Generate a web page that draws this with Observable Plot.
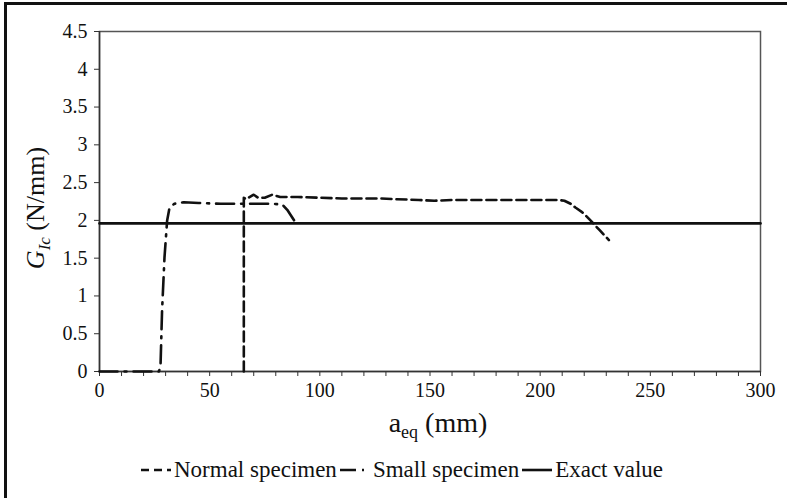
<!DOCTYPE html>
<html>
<head>
<meta charset="utf-8">
<script src="https://cdn.jsdelivr.net/npm/d3@7"></script>
<script src="https://cdn.jsdelivr.net/npm/@observablehq/plot@0.6"></script>
<style>
  html, body { margin: 0; padding: 0; background: #fff; }
  #wrap { position: relative; width: 787px; height: 498px; overflow: hidden; background: #fff; font-family: "Liberation Serif", "Times New Roman", Times, "DejaVu Serif", "Noto Serif", serif; }
  #border { position: absolute; left: 4px; top: 2px; width: 900px; height: 600px; border-left: 3px solid #111; border-top: 3px solid #111; box-sizing: border-box; pointer-events: none; }
  #chart { position: absolute; left: 0; top: 0; }
  #chart svg, #chart svg text { font-family: "Liberation Serif", "Times New Roman", Times, "DejaVu Serif", "Noto Serif", serif !important; }
  #legend { position: absolute; left: 140px; top: 455px; height: 30px; display: flex; align-items: center; font-size: 23px; color: #111; white-space: nowrap; }
  #legend .item { display: flex; align-items: center; }
  #legend svg { display: block; }
</style>
</head>
<body>
<div id="wrap">
  <div id="chart"></div>
  <div id="legend"></div>
  <div id="border"></div>
</div>
<script>
// ---- data ----
const normalX = [65.5, 65.5, 66.5, 70, 72, 75, 78.4, 82, 90, 100, 110, 120, 128, 135, 145, 152, 160, 170, 183, 195, 200, 208, 211, 213.8, 216, 219, 221.5, 223.6, 227, 231.2];
const normalY = [0, 2.3, 2.28, 2.34, 2.3, 2.3, 2.34, 2.31, 2.31, 2.3, 2.29, 2.29, 2.29, 2.28, 2.27, 2.26, 2.27, 2.27, 2.27, 2.27, 2.27, 2.27, 2.26, 2.22, 2.17, 2.11, 2.04, 1.976, 1.87, 1.74];

const smallX = [0, 27, 27.7, 28.4, 29.5, 30.7, 31.8, 34, 38.3, 45, 55, 65, 72, 78.4, 83, 85.2, 89];
const smallY = [0, 0, 0.08, 0.81, 1.51, 2.0, 2.17, 2.22, 2.24, 2.23, 2.22, 2.22, 2.22, 2.22, 2.21, 2.14, 1.97];

const exactX = [0, 300];
const exactY = [1.96, 1.96];

const seriesNames = ["Normal specimen", "Small specimen", "Exact value"];
const xTicks = d3.range(0, 301, 10);
const yTicks = d3.range(0, 4.51, 0.5);

// ---- build tables ----
const toRows = (xs, ys) => xs.map((x, i) => ({x, y: ys[i]}));
const normal = toRows(normalX, normalY);
const small = toRows(smallX, smallY);
const exact = toRows(exactX, exactY);

const dashes = ["10,5", "18,7,2,7", null];

const chart = Plot.plot({
  width: 787,
  height: 450,
  marginLeft: 99,
  marginRight: 27,
  marginTop: 31,
  marginBottom: 79,
  style: { fontSize: "20px", color: "#111", background: "transparent", overflow: "visible" },
  x: { domain: [0, 300] },
  y: { domain: [0, 4.5] },
  marks: [
    Plot.frame({ stroke: "#555", strokeWidth: 1.5 }),
    Plot.axisX({ ticks: xTicks, tickSize: 5, tickPadding: 6, stroke: "#333",
      tickFormat: d => (d % 50 === 0 ? String(d) : ""), label: null, fontSize: 20 }),
    Plot.axisY({ ticks: yTicks, tickSize: 5, tickPadding: 7, stroke: "#333",
      tickFormat: d => String(+d.toFixed(1)), label: null, fontSize: 20 }),
    Plot.ruleY([0], { stroke: "#333", strokeWidth: 1.5 }),
    Plot.ruleX([0], { stroke: "#333", strokeWidth: 1.5 }),
    Plot.line(exact, { x: "x", y: "y", stroke: "#111", strokeWidth: 2.6 }),
    Plot.line(small, { x: "x", y: "y", stroke: "#111", strokeWidth: 2.6, strokeDasharray: dashes[1], curve: "linear" }),
    Plot.line(normal, { x: "x", y: "y", stroke: "#111", strokeWidth: 2.6, strokeDasharray: dashes[0], curve: "linear" })
  ]
});
document.getElementById("chart").appendChild(chart);

// axis titles
const svg = d3.select(chart);
const xt = svg.append("text")
  .attr("x", 438).attr("y", 432)
  .attr("text-anchor", "middle")
  .attr("font-size", 28).attr("fill", "#111");
xt.append("tspan").text("a");
xt.append("tspan").attr("font-size", 18).attr("dy", 6).text("eq");
xt.append("tspan").attr("dy", -6).text(" (mm)");

const yt = svg.append("text")
  .attr("transform", "translate(44,208) rotate(-90)")
  .attr("text-anchor", "middle")
  .attr("font-size", 26).attr("fill", "#111");
yt.append("tspan").attr("font-style", "italic").text("G");
yt.append("tspan").attr("font-style", "italic").attr("font-size", 17).attr("dy", 6).text("Ic");
yt.append("tspan").attr("dy", -6).text(" (N/mm)");

// legend
const legend = d3.select("#legend");
seriesNames.forEach((name, i) => {
  const item = legend.append("div").attr("class", "item");
  const s = item.append("svg").attr("width", 32).attr("height", 10);
  s.append("line").attr("x1", 1).attr("x2", 31).attr("y1", 5).attr("y2", 5)
    .attr("stroke", "#111").attr("stroke-width", 2.6)
    .attr("stroke-dasharray", i === 0 ? "8,5" : i === 1 ? "16,6,2,6" : null);
  item.append("span").style("margin", "0 2px 0 2px").text(name);
});
</script>
</body>
</html>
